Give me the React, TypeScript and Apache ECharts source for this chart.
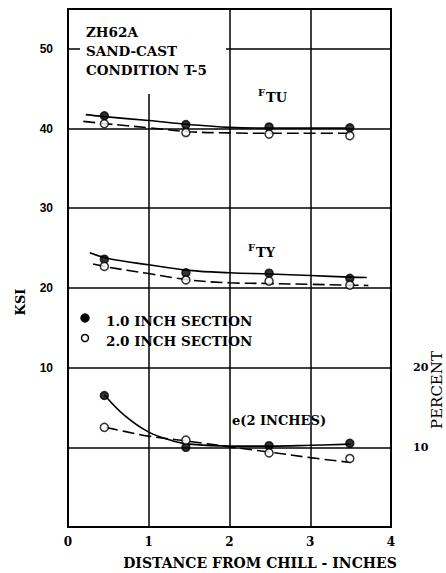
import React, { useEffect, useRef } from "react";
import * as echarts from "echarts";

// Measured points (x = distance from chill, inches)
const xPoints = [0.45, 1.46, 2.49, 3.49];
const ftu10 = [41.6, 40.5, 40.2, 40.1];
const ftu20 = [40.6, 39.5, 39.3, 39.1];
const fty10 = [23.6, 21.9, 21.85, 21.2];
const fty20 = [22.7, 21.0, 20.85, 20.35];
const elong10 = [16.5, 10.0, 10.2, 10.5];
const elong20 = [12.5, 10.9, 9.3, 8.6];

// Faired curves
const ftu10CurveX = [0.22, 0.45, 1.0, 1.5, 2.0, 2.5, 3.0, 3.45];
const ftu10CurveY = [41.75, 41.5, 41.0, 40.5, 40.15, 40.05, 40.05, 40.05];
const ftu20CurveX = [0.19, 0.47, 1.0, 1.5, 2.0, 2.5, 3.0, 3.5];
const ftu20CurveY = [40.9, 40.6, 40.1, 39.6, 39.45, 39.4, 39.4, 39.4];
const fty10CurveX = [0.27, 0.5, 1.0, 1.5, 2.0, 2.5, 3.0, 3.5, 3.7];
const fty10CurveY = [24.4, 23.7, 22.9, 22.2, 21.9, 21.75, 21.55, 21.35, 21.3];
const fty20CurveX = [0.31, 0.5, 1.0, 1.5, 2.0, 2.5, 3.0, 3.5, 3.72];
const fty20CurveY = [23.0, 22.6, 21.8, 21.0, 20.65, 20.55, 20.45, 20.35, 20.3];
const e10CurveX = [0.45, 0.7, 1.0, 1.3, 1.5, 2.0, 2.5, 3.0, 3.5];
const e10CurveY = [16.6, 14.0, 11.9, 10.8, 10.4, 10.15, 10.15, 10.25, 10.4];
const e20CurveX = [0.47, 0.7, 1.0, 1.5, 2.0, 2.5, 3.0, 3.5];
const e20CurveY = [12.5, 12.0, 11.4, 10.75, 10.05, 9.4, 8.7, 8.1];

const xTicks = [0, 1, 2, 3, 4];
const ksiTicks = [10, 20, 30, 40, 50];
const percentTicks = [10, 20];

const SERIF = "'DejaVu Serif', 'Liberation Serif', serif";
const SANS = "'Liberation Sans', 'DejaVu Sans', sans-serif";

const zip = (xs: number[], ys: number[]) => xs.map((x, i) => [x, ys[i]]);

export default function App() {
  const ref = useRef<HTMLDivElement>(null);
  useEffect(() => {
    if (!ref.current) return;
    const chart = echarts.init(ref.current, null, { renderer: "svg" });

    const curve = (xs: number[], ys: number[], dashed: boolean, yAxisIndex = 0) => ({
      type: "line",
      yAxisIndex,
      data: zip(xs, ys),
      smooth: 0.4,
      showSymbol: false,
      symbol: "none",
      silent: true,
      lineStyle: {
        color: "#000",
        width: 1.6,
        type: dashed ? [12, 5] : "solid",
      },
      z: 3,
    });
    const marks = (ys: number[], filled: boolean, yAxisIndex = 0) => ({
      type: "scatter",
      yAxisIndex,
      data: zip(xPoints, ys),
      symbol: "circle",
      symbolSize: 8,
      itemStyle: {
        color: filled ? "#000" : "#fff",
        borderColor: "#000",
        borderWidth: 1.5,
      },
      z: 4,
    });

    chart.setOption({
      animation: false,
      backgroundColor: "#fff",
      grid: {
        left: 68,
        right: 55,
        top: 9,
        bottom: 46,
        show: true,
        borderColor: "#000",
        borderWidth: 2,
      },
      xAxis: {
        type: "value",
        min: 0,
        max: 4,
        interval: 1,
        axisLine: { show: false },
        axisTick: { show: false },
        splitLine: { show: true, lineStyle: { color: "#000", width: 1.5 } },
        axisLabel: {
          margin: 9,
          color: "#000",
          fontFamily: SERIF,
          fontWeight: "bold",
          fontSize: 12,
          formatter: (v: number) => (xTicks.includes(v) ? String(v) : ""),
        },
      },
      yAxis: [
        {
          type: "value",
          min: -10,
          max: 55,
          interval: 10,
          axisLine: { show: false },
          axisTick: { show: false },
          splitLine: { show: true, lineStyle: { color: "#000", width: 1.5 } },
          axisLabel: {
            margin: 15,
            color: "#000",
            fontFamily: SANS,
            fontWeight: "bold",
            fontSize: 12,
            showMaxLabel: false,
            formatter: (v: number) => (ksiTicks.includes(v) ? String(v) : ""),
          },
        },
        {
          type: "value",
          position: "right",
          min: 0,
          max: 65,
          interval: 10,
          axisLine: { show: false },
          axisTick: { show: false },
          splitLine: { show: false },
          axisLabel: {
            margin: 22,
            color: "#000",
            fontFamily: SERIF,
            fontWeight: "bold",
            fontSize: 11,
            showMaxLabel: false,
            formatter: (v: number) => (percentTicks.includes(v) ? String(v) : ""),
          },
        },
      ],
      series: [
        curve(ftu10CurveX, ftu10CurveY, false),
        curve(ftu20CurveX, ftu20CurveY, true),
        curve(fty10CurveX, fty10CurveY, false),
        curve(fty20CurveX, fty20CurveY, true),
        curve(e10CurveX, e10CurveY, false, 1),
        curve(e20CurveX, e20CurveY, true, 1),
        marks(ftu10, true),
        marks(ftu20, false),
        marks(fty10, true),
        marks(fty20, false),
        marks(elong10, true, 1),
        marks(elong20, false, 1),
      ],
      graphic: [
        {
          type: "rect",
          shape: { x: 80, y: 10, width: 146, height: 84 },
          style: { fill: "#fff" },
          z: 1,
          silent: true,
        },
        {
          type: "text",
          x: 86,
          y: 22,
          z: 5,
          style: {
            text: "ZH62A\nSAND-CAST\nCONDITION T-5",
            font: `bold 13.5px ${SERIF}`,
            fill: "#000",
            lineHeight: 19,
          },
        },
        {
          type: "text",
          x: 258,
          y: 87,
          z: 5,
          style: { text: "F", font: `bold 10px ${SERIF}`, fill: "#000" },
        },
        {
          type: "text",
          x: 266,
          y: 91,
          z: 5,
          style: { text: "TU", font: `bold 13px ${SERIF}`, fill: "#000" },
        },
        {
          type: "text",
          x: 248,
          y: 242,
          z: 5,
          style: { text: "F", font: `bold 10px ${SERIF}`, fill: "#000" },
        },
        {
          type: "text",
          x: 256,
          y: 246,
          z: 5,
          style: { text: "TY", font: `bold 13px ${SERIF}`, fill: "#000" },
        },
        {
          type: "text",
          x: 232,
          y: 414,
          z: 5,
          style: { text: "e(2 INCHES)", font: `bold 13px ${SERIF}`, fill: "#000" },
        },
        {
          type: "circle",
          shape: { cx: 85, cy: 318, r: 4 },
          style: { fill: "#000", stroke: "#000", lineWidth: 1.5 },
          z: 5,
        },
        {
          type: "circle",
          shape: { cx: 85, cy: 338, r: 3.5 },
          style: { fill: "#fff", stroke: "#000", lineWidth: 1.5 },
          z: 5,
        },
        {
          type: "text",
          x: 106,
          y: 311,
          z: 5,
          style: {
            text: "1.0 INCH SECTION\n2.0 INCH SECTION",
            font: `bold 13.5px ${SERIF}`,
            fill: "#000",
            lineHeight: 20,
          },
        },
        {
          type: "text",
          x: 20,
          y: 302,
          rotation: Math.PI / 2,
          z: 5,
          style: {
            text: "KSI",
            font: `bold 13px ${SERIF}`,
            fill: "#000",
            align: "center",
            verticalAlign: "middle",
          },
        },
        {
          type: "text",
          x: 437,
          y: 390,
          rotation: Math.PI / 2,
          z: 5,
          style: {
            text: "PERCENT",
            font: `15px ${SERIF}`,
            fill: "#000",
            align: "center",
            verticalAlign: "middle",
          },
        },
        {
          type: "text",
          x: 260,
          y: 563,
          z: 5,
          style: {
            text: "DISTANCE FROM CHILL - INCHES",
            font: `bold 14px ${SERIF}`,
            fill: "#000",
            align: "center",
            verticalAlign: "middle",
          },
        },
      ],
    });
    return () => chart.dispose();
  }, []);
  return (
    <div
      ref={ref}
      style={{ position: "fixed", left: 0, top: 0, width: 446, height: 573 }}
    />
  );
}
